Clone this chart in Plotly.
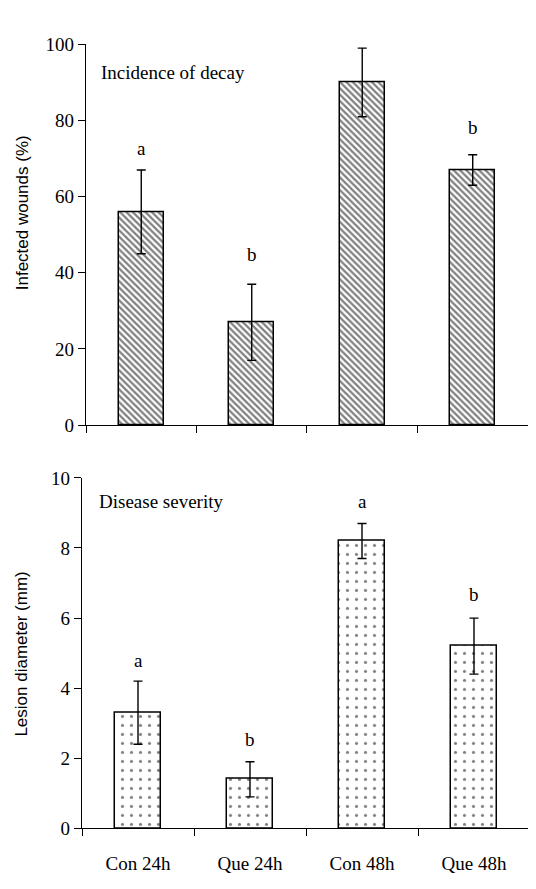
import plotly.graph_objects as go

categories = ["Con 24h", "Que 24h", "Con 48h", "Que 48h"]

incidence = [56, 27, 90, 67]
incidence_err = [11, 10, 9, 4]
incidence_letters = ["a", "b", "a", "b"]
incidence_letter_y = [72.6, 44.9, 104.6, 78.2]

severity = [3.3, 1.4, 8.2, 5.2]
severity_err = [0.9, 0.5, 0.5, 0.8]
severity_letters = ["a", "b", "a", "b"]
severity_letter_y = [4.8, 2.53, 9.33, 6.67]

top_ticks = [0, 20, 40, 60, 80, 100]
bottom_ticks = [0, 2, 4, 6, 8, 10]

W, H = 536, 889
OFF = 8  # page body margin offset
SERIF = "Liberation Serif, Times New Roman, serif"
SANS = "Liberation Sans, Arial, sans-serif"
xs = list(range(len(categories)))


def py(ref_px):
    return (H - (ref_px - OFF)) / H


def px(ref_px):
    return (ref_px - OFF) / W


fig = go.Figure()

fig.add_trace(go.Bar(
    x=xs, y=incidence, width=0.41,
    marker=dict(color="white", line=dict(color="black", width=1.5),
                pattern=dict(shape="\\", size=4.5, solidity=0.5,
                             fgcolor="black", bgcolor="white")),
    error_y=dict(type="data", array=incidence_err, visible=True,
                 color="black", thickness=1.4, width=4.5),
    xaxis="x", yaxis="y", showlegend=False,
))

fig.add_trace(go.Bar(
    x=xs, y=severity, width=0.41,
    marker=dict(color="white", line=dict(color="black", width=1.5),
                pattern=dict(shape=".", size=9, solidity=0.1,
                             fgcolor="black", bgcolor="white")),
    error_y=dict(type="data", array=severity_err, visible=True,
                 color="black", thickness=1.4, width=4.5),
    xaxis="x2", yaxis="y2", showlegend=False,
))

fig.add_trace(go.Scatter(x=xs, y=[None] * len(xs), xaxis="x3", yaxis="y2",
                         showlegend=False, hoverinfo="skip", mode="markers"))

boundaries = [i - 0.5 for i in xs]

axis_common = dict(showline=True, linecolor="black", linewidth=1.2,
                   ticks="outside", tickcolor="black", ticklen=7, tickwidth=1.2,
                   showgrid=False, zeroline=False)

fig.update_layout(
    width=W, height=H,
    margin=dict(l=0, r=0, t=0, b=0),
    paper_bgcolor="white", plot_bgcolor="white",
    bargap=0,
    xaxis=dict(domain=[px(86), 1], range=[-0.5, 3.645], anchor="y",
               tickmode="array", tickvals=boundaries, showticklabels=False,
               **axis_common),
    yaxis=dict(domain=[py(425), py(35)], range=[0, 100], anchor="x",
               tickmode="array", tickvals=top_ticks,
               tickfont=dict(family=SERIF, size=19, color="black"),
               **axis_common),
    xaxis2=dict(domain=[px(82), 1], range=[-0.5, 3.625], anchor="y2",
                tickmode="array", tickvals=boundaries, showticklabels=False,
                **axis_common),
    yaxis2=dict(domain=[py(838), py(479)], range=[0, 10], anchor="x2",
                tickmode="array", tickvals=bottom_ticks,
                tickfont=dict(family=SERIF, size=19, color="black"),
                **axis_common),
    xaxis3=dict(domain=[px(82), 1], range=[-0.5, 3.625], anchor="y2",
                overlaying="x2", side="bottom", showline=False, showgrid=False,
                zeroline=False, tickmode="array", tickvals=xs, ticktext=categories,
                ticks="outside", ticklen=18, tickcolor="rgba(0,0,0,0)",
                tickfont=dict(family=SERIF, size=19, color="black")),
)

annotations = []
for i, (t, yv) in enumerate(zip(incidence_letters, incidence_letter_y)):
    annotations.append(dict(x=i, y=yv, xref="x", yref="y", text=t, showarrow=False,
                            font=dict(family=SERIF, size=19, color="black"),
                            xanchor="center", yanchor="middle"))
for i, (t, yv) in enumerate(zip(severity_letters, severity_letter_y)):
    annotations.append(dict(x=i, y=yv, xref="x2", yref="y2", text=t, showarrow=False,
                            font=dict(family=SERIF, size=19, color="black"),
                            xanchor="center", yanchor="middle"))

annotations += [
    dict(x=px(99), y=py(64), xref="paper", yref="paper", text="Incidence of decay",
         showarrow=False, xanchor="left", yanchor="middle",
         font=dict(family=SERIF, size=19, color="black")),
    dict(x=px(97), y=py(503), xref="paper", yref="paper", text="Disease severity",
         showarrow=False, xanchor="left", yanchor="middle",
         font=dict(family=SERIF, size=19, color="black")),
    dict(x=px(22), y=py(208), xref="paper", yref="paper", text="Infected wounds (%)",
         showarrow=False, textangle=-90, xanchor="center", yanchor="middle",
         font=dict(family=SANS, size=17, color="black")),
    dict(x=px(22), y=py(660), xref="paper", yref="paper", text="Lesion diameter (mm)",
         showarrow=False, textangle=-90, xanchor="center", yanchor="middle",
         font=dict(family=SANS, size=17, color="black")),
]
fig.update_layout(annotations=annotations)

fig.write_html("out.html")
